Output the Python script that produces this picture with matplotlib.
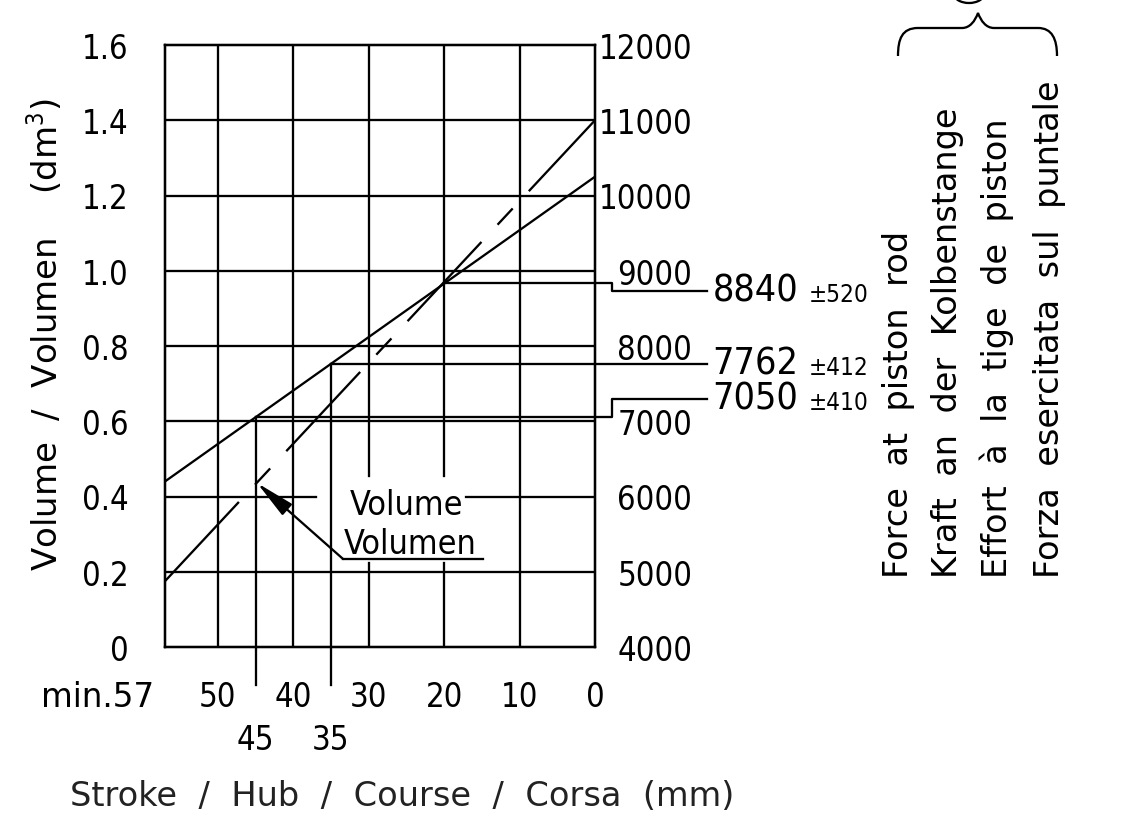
import matplotlib
matplotlib.use("Agg")
import matplotlib.pyplot as plt
from matplotlib.patches import Ellipse, PathPatch
from matplotlib.path import Path

plt.rcParams['font.family'] = ['DejaVu Sans']
plt.rcParams['font.stretch'] = 'condensed'
plt.rcParams['mathtext.fontset'] = 'dejavusans'
plt.rcParams['lines.scale_dashes'] = False

#%% data
stroke_ticks = [50, 40, 30, 20, 10, 0]
stroke_minor = [45, 35]
volume_ticks = [0, 0.2, 0.4, 0.6, 0.8, 1.0, 1.2, 1.4, 1.6]
volume_labels = ["0", "0.2", "0.4", "0.6", "0.8", "1.0", "1.2", "1.4", "1.6"]
force_ticks = [4000, 5000, 6000, 7000, 8000, 9000, 10000, 11000, 12000]

line_stroke = [57, 0]
force_line = [6200, 10250]
volume_line = [0.175, 1.40]

mark_stroke = [45, 35, 20]
mark_force = [7050, 7762, 8840]
mark_tol = [410, 412, 520]

right_texts = ["Force  at  piston  rod",
               "Kraft  an  der  Kolbenstange",
               "Effort  à  la  tige  de  piston",
               "Forza  esercitata  sul  puntale"]

#%% layout (pixels of the 1125x828 picture)
W, H = 1125, 828
lw = 1.65
fs = 23.5

fig = plt.figure(figsize=(W / 100, H / 100), dpi=100)
ax = fig.add_axes([165 / W, 1 - 648 / H, 430 / W, 602 / H])
ax.set_xlim(57, 0)
ax.set_ylim(0, 1.6)
ax2 = ax.twinx()
ax2.set_ylim(4000, 12000)

for a in (ax, ax2):
    for sp in a.spines.values():
        sp.set_linewidth(lw)

# grid with the gaps around the "Volume" label
for s in stroke_ticks[:-1]:
    if s in (30, 20):
        ax.plot([s, s], [0, 0.222], color='k', lw=lw)
        ax.plot([s, s], [0.455, 1.6], color='k', lw=lw)
    else:
        ax.plot([s, s], [0, 1.6], color='k', lw=lw)
for v in volume_ticks[1:-1]:
    if v == 0.4:
        ax.plot([57, 37.0], [v, v], color='k', lw=lw)
        ax.plot([17.1, 0], [v, v], color='k', lw=lw)
    else:
        ax.plot([57, 0], [v, v], color='k', lw=lw)

# force line (solid) and volume line (long-short dash)
ax2.plot(line_stroke, force_line, color='k', lw=lw)
ax.plot(line_stroke, volume_line, color='k', lw=lw,
        linestyle=(0, (78, 17, 16, 17)), dash_capstyle='butt')

# marked points with leaders
label_force = [7300, 7762, 8735]
for s, f, lf, tol in zip(mark_stroke, mark_force, label_force, mark_tol):
    if s != 20:
        ax2.plot([s, s], [f, 3500], color='k', lw=lw, clip_on=False)
    if lf != f:
        ax2.plot([s, -2.3, -2.3, -14.8], [f, f, lf, lf], color='k', lw=lw, clip_on=False)
    else:
        ax2.plot([s, -14.8], [f, f], color='k', lw=lw, clip_on=False)
    ax2.text(-15.6, lf, str(f), fontsize=27, ha='left', va='center', clip_on=False)
    ax2.text(-28.3, lf - 40, "±" + str(tol), fontsize=17.5, ha='left', va='center', clip_on=False)

# Volume label with arrow
ax.text(25.0, 0.380, "Volume", fontsize=24.5, ha='center', va='center')
ax.text(24.5, 0.276, "Volumen", fontsize=24.5, ha='center', va='center')
ax.plot([33.4, 14.8], [0.234, 0.234], color='k', lw=lw)
ax.annotate("", xy=(44.8, 0.436), xytext=(33.4, 0.234),
            arrowprops=dict(arrowstyle='-|>,head_length=0.8,head_width=0.15',
                            mutation_scale=30, color='k', lw=lw,
                            shrinkA=0, shrinkB=0))

# ticks
ax.set_yticks(volume_ticks)
ax.set_yticklabels(volume_labels)
ax.tick_params(axis='y', length=0, pad=26, labelsize=fs)
ax.set_xticks(stroke_ticks)
ax.set_xticklabels([str(s) for s in stroke_ticks])
ax.set_xticks(stroke_minor, minor=True)
ax.set_xticklabels([str(s) for s in stroke_minor], minor=True)
ax.tick_params(axis='x', which='major', length=0, pad=24, labelsize=fs)
ax.tick_params(axis='x', which='minor', length=0, pad=55, labelsize=fs)
ax.annotate("min.57", xy=(57, 0), xycoords=('data', 'axes fraction'),
            xytext=(-8, -24), textcoords='offset points',
            ha='right', va='top', fontsize=fs, fontstretch='normal')

ax2.set_yticks(force_ticks)
ax2.set_yticklabels([str(f) for f in force_ticks])
ax2.tick_params(axis='y', length=0, pad=70, labelsize=fs)
for t in ax2.get_yticklabels():
    t.set_horizontalalignment('right')

# axis titles
fig.text(45 / W, 1 - 335 / H, "Volume  /  Volumen    (dm$^3$)", rotation=90,
         ha='center', va='center', fontsize=24.5, fontstretch='normal')
fig.text(402 / W, 1 - 797 / H, "Stroke  /  Hub  /  Course  /  Corsa  (mm)",
         ha='center', va='center', fontsize=24.2, fontstretch='normal',
         color='#222222')

# right side multilingual caption
for x, t in zip([898, 948, 997, 1050], right_texts):
    fig.text(x / W, 1 - 578 / H, t, rotation=90, rotation_mode='anchor',
             ha='left', va='center', fontsize=24.2, fontstretch='normal')

# brace and the cut circle at the top
def fp(x, y):
    return (x / W, 1 - y / H)

verts = [fp(898, 57), fp(898, 40), fp(902, 29), fp(918, 29),
         fp(962, 29), fp(970, 29), fp(975, 22), fp(978, 14),
         fp(981, 22), fp(986, 29), fp(994, 29),
         fp(1038, 29), fp(1052, 29), fp(1057, 40), fp(1057, 57)]
codes = [Path.MOVETO, Path.CURVE4, Path.CURVE4, Path.CURVE4,
         Path.LINETO, Path.CURVE4, Path.CURVE4, Path.CURVE4,
         Path.CURVE4, Path.CURVE4, Path.CURVE4,
         Path.LINETO, Path.CURVE4, Path.CURVE4, Path.CURVE4]
fig.patches.append(PathPatch(Path(verts, codes), transform=fig.transFigure,
                             fill=False, lw=lw, color='k'))
fig.patches.append(Ellipse(fp(969, -5), 30 / W, 18 / H, transform=fig.transFigure,
                           fill=False, lw=lw, color='k'))

fig.savefig("out.png", dpi=100)
